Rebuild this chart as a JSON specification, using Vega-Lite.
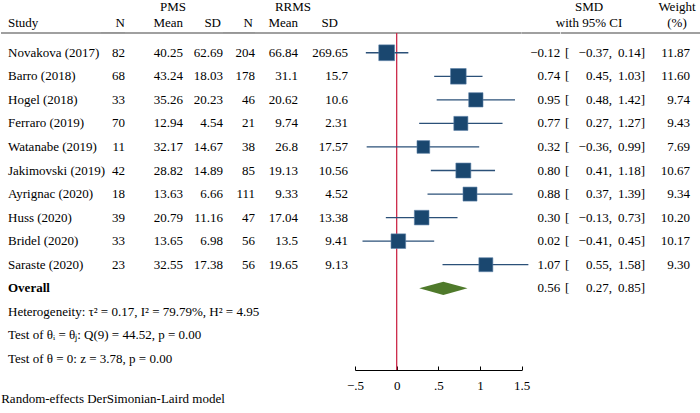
{
  "$schema": "https://vega.github.io/schema/vega-lite/v6.json",
  "padding": 0,
  "spacing": 0,
  "bounds": "flush",
  "background": "white",
  "title": {"text": "Random-effects DerSimonian-Laird model", "orient": "bottom", "anchor": "start", "font": "Liberation Serif", "fontSize": 13, "fontWeight": "normal", "color": "black", "offset": 1, "dx": 1},
  "config": {
    "view": {"stroke": null},
    "text": {"font": "Liberation Serif", "fontSize": 13, "color": "black", "baseline": "middle"},
    "concat": {"spacing": 0}
  },
  "datasets": {
    "studies": [
      {"study": "Novakova (2017)", "n1": 82, "m1": "40.25", "sd1": "62.69", "n2": 204, "m2": "66.84", "sd2": "269.65", "smd": -0.12, "lo": -0.37, "hi": 0.14, "w": 11.87, "row": 1},
      {"study": "Barro (2018)", "n1": 68, "m1": "43.24", "sd1": "18.03", "n2": 178, "m2": "31.1", "sd2": "15.7", "smd": 0.74, "lo": 0.45, "hi": 1.03, "w": 11.60, "row": 2},
      {"study": "Hogel (2018)", "n1": 33, "m1": "35.26", "sd1": "20.23", "n2": 46, "m2": "20.62", "sd2": "10.6", "smd": 0.95, "lo": 0.48, "hi": 1.42, "w": 9.74, "row": 3},
      {"study": "Ferraro (2019)", "n1": 70, "m1": "12.94", "sd1": "4.54", "n2": 21, "m2": "9.74", "sd2": "2.31", "smd": 0.77, "lo": 0.27, "hi": 1.27, "w": 9.43, "row": 4},
      {"study": "Watanabe (2019)", "n1": 11, "m1": "32.17", "sd1": "14.67", "n2": 38, "m2": "26.8", "sd2": "17.57", "smd": 0.32, "lo": -0.36, "hi": 0.99, "w": 7.69, "row": 5},
      {"study": "Jakimovski (2019)", "n1": 42, "m1": "28.82", "sd1": "14.89", "n2": 85, "m2": "19.13", "sd2": "10.56", "smd": 0.80, "lo": 0.41, "hi": 1.18, "w": 10.67, "row": 6},
      {"study": "Ayrignac (2020)", "n1": 18, "m1": "13.63", "sd1": "6.66", "n2": 111, "m2": "9.33", "sd2": "4.52", "smd": 0.88, "lo": 0.37, "hi": 1.39, "w": 9.34, "row": 7},
      {"study": "Huss (2020)", "n1": 39, "m1": "20.79", "sd1": "11.16", "n2": 47, "m2": "17.04", "sd2": "13.38", "smd": 0.30, "lo": -0.13, "hi": 0.73, "w": 10.20, "row": 8},
      {"study": "Bridel (2020)", "n1": 33, "m1": "13.65", "sd1": "6.98", "n2": 56, "m2": "13.5", "sd2": "9.41", "smd": 0.02, "lo": -0.41, "hi": 0.45, "w": 10.17, "row": 9},
      {"study": "Saraste (2020)", "n1": 23, "m1": "32.55", "sd1": "17.38", "n2": 56, "m2": "19.65", "sd2": "9.13", "smd": 1.07, "lo": 0.55, "hi": 1.58, "w": 9.30, "row": 10}
    ],
    "overall": [
      {"label": "Overall", "smd": 0.56, "lo": 0.27, "hi": 0.85, "row": 11}
    ],
    "stats": [
      {"label": "Heterogeneity: τ² = 0.17, I² = 79.79%, H² = 4.95", "row": 12},
      {"label": "Test of θᵢ = θⱼ: Q(9) = 44.52, p = 0.00", "row": 13},
      {"label": "Test of θ = 0: z = 3.78, p = 0.00", "row": 14}
    ]
  },
  "hconcat": [
    {
      "width": 100, "height": 370,
      "layer": [
        {"data": {"name": "studies"}, "mark": {"type": "text", "align": "left", "dx": 7},
         "encoding": {"x": {"value": 0}, "y": {"field": "row", "type": "quantitative", "scale": {"domain": [-1.24, 14.47], "reverse": true, "nice": false, "zero": false}, "axis": null}, "text": {"field": "study", "type": "nominal"}}},
        {"data": {"name": "overall"}, "mark": {"type": "text", "align": "left", "dx": 7, "fontWeight": "bold"},
         "encoding": {"x": {"value": 0}, "y": {"field": "row", "type": "quantitative", "axis": null}, "text": {"field": "label", "type": "nominal"}}},
        {"data": {"name": "stats"}, "mark": {"type": "text", "align": "left", "dx": 7},
         "encoding": {"x": {"value": 0}, "y": {"field": "row", "type": "quantitative", "axis": null}, "text": {"field": "label", "type": "nominal"}}},
        {"data": {"values": [{}]}, "mark": {"type": "text", "align": "left", "dx": 7, "text": "Study"},
         "encoding": {"x": {"value": 0}, "y": {"datum": -0.26, "type": "quantitative", "axis": null}}},
        {"data": {"values": [{}]}, "mark": {"type": "rule", "color": "#808080", "strokeWidth": 1.6},
         "encoding": {"y": {"datum": 0.16, "type": "quantitative", "axis": null}}}
      ]
    },
    {
      "width": 24, "height": 370,
      "layer": [
        {"data": {"name": "studies"}, "mark": {"type": "text", "align": "right"},
         "encoding": {"x": {"value": "width"}, "y": {"field": "row", "type": "quantitative", "scale": {"domain": [-1.24, 14.47], "reverse": true, "nice": false, "zero": false}, "axis": null}, "text": {"field": "n1", "type": "nominal"}}},
        {"data": {"values": [{}]}, "mark": {"type": "text", "align": "right", "text": "N"},
         "encoding": {"x": {"value": "width"}, "y": {"datum": -0.26, "type": "quantitative", "axis": null}}},
        {"data": {"values": [{}]}, "mark": {"type": "rule", "color": "#808080", "strokeWidth": 1.6},
         "encoding": {"y": {"datum": 0.16, "type": "quantitative", "axis": null}}}
      ]
    },
    {
      "width": 58, "height": 370,
      "layer": [
        {"data": {"name": "studies"}, "mark": {"type": "text", "align": "right"},
         "encoding": {"x": {"value": "width"}, "y": {"field": "row", "type": "quantitative", "scale": {"domain": [-1.24, 14.47], "reverse": true, "nice": false, "zero": false}, "axis": null}, "text": {"field": "m1", "type": "nominal"}}},
        {"data": {"values": [{}]}, "mark": {"type": "text", "align": "right", "text": "Mean"},
         "encoding": {"x": {"value": "width"}, "y": {"datum": -0.26, "type": "quantitative", "axis": null}}},
        {"data": {"values": [{}]}, "mark": {"type": "text", "align": "center", "text": "PMS", "dx": -10},
         "encoding": {"x": {"value": "width"}, "y": {"datum": -0.94, "type": "quantitative", "axis": null}}},
        {"data": {"values": [{}]}, "mark": {"type": "rule", "color": "#808080", "strokeWidth": 1.6},
         "encoding": {"y": {"datum": 0.16, "type": "quantitative", "axis": null}}}
      ]
    },
    {
      "width": 40, "height": 370,
      "layer": [
        {"data": {"name": "studies"}, "mark": {"type": "text", "align": "right"},
         "encoding": {"x": {"value": "width"}, "y": {"field": "row", "type": "quantitative", "scale": {"domain": [-1.24, 14.47], "reverse": true, "nice": false, "zero": false}, "axis": null}, "text": {"field": "sd1", "type": "nominal"}}},
        {"data": {"values": [{}]}, "mark": {"type": "text", "align": "right", "text": "SD", "dx": -2},
         "encoding": {"x": {"value": "width"}, "y": {"datum": -0.26, "type": "quantitative", "axis": null}}},
        {"data": {"values": [{}]}, "mark": {"type": "rule", "color": "#808080", "strokeWidth": 1.6},
         "encoding": {"y": {"datum": 0.16, "type": "quantitative", "axis": null}}}
      ]
    },
    {
      "width": 32, "height": 370,
      "layer": [
        {"data": {"name": "studies"}, "mark": {"type": "text", "align": "right"},
         "encoding": {"x": {"value": "width"}, "y": {"field": "row", "type": "quantitative", "scale": {"domain": [-1.24, 14.47], "reverse": true, "nice": false, "zero": false}, "axis": null}, "text": {"field": "n2", "type": "nominal"}}},
        {"data": {"values": [{}]}, "mark": {"type": "text", "align": "right", "text": "N", "dx": -2},
         "encoding": {"x": {"value": "width"}, "y": {"datum": -0.26, "type": "quantitative", "axis": null}}},
        {"data": {"values": [{}]}, "mark": {"type": "rule", "color": "#808080", "strokeWidth": 1.6},
         "encoding": {"y": {"datum": 0.16, "type": "quantitative", "axis": null}}}
      ]
    },
    {
      "width": 43, "height": 370,
      "layer": [
        {"data": {"name": "studies"}, "mark": {"type": "text", "align": "right"},
         "encoding": {"x": {"value": "width"}, "y": {"field": "row", "type": "quantitative", "scale": {"domain": [-1.24, 14.47], "reverse": true, "nice": false, "zero": false}, "axis": null}, "text": {"field": "m2", "type": "nominal"}}},
        {"data": {"values": [{}]}, "mark": {"type": "text", "align": "right", "text": "Mean"},
         "encoding": {"x": {"value": "width"}, "y": {"datum": -0.26, "type": "quantitative", "axis": null}}},
        {"data": {"values": [{}]}, "mark": {"type": "text", "align": "center", "text": "RRMS", "dx": -5},
         "encoding": {"x": {"value": "width"}, "y": {"datum": -0.94, "type": "quantitative", "axis": null}}},
        {"data": {"values": [{}]}, "mark": {"type": "rule", "color": "#808080", "strokeWidth": 1.6},
         "encoding": {"y": {"datum": 0.16, "type": "quantitative", "axis": null}}}
      ]
    },
    {
      "width": 57, "height": 370,
      "layer": [
        {"data": {"name": "studies"}, "mark": {"type": "text", "align": "right", "dx": -7},
         "encoding": {"x": {"value": "width"}, "y": {"field": "row", "type": "quantitative", "scale": {"domain": [-1.24, 14.47], "reverse": true, "nice": false, "zero": false}, "axis": null}, "text": {"field": "sd2", "type": "nominal"}}},
        {"data": {"values": [{}]}, "mark": {"type": "text", "align": "right", "text": "SD", "dx": -17},
         "encoding": {"x": {"value": "width"}, "y": {"datum": -0.26, "type": "quantitative", "axis": null}}},
        {"data": {"values": [{}]}, "mark": {"type": "rule", "color": "#808080", "strokeWidth": 1.6},
         "encoding": {"y": {"datum": 0.16, "type": "quantitative", "axis": null}}}
      ]
    },
    {
      "width": 166.7, "height": 370,
      "layer": [
        {"data": {"values": [{}]}, "mark": {"type": "rule", "color": "#808080", "strokeWidth": 1.6},
         "encoding": {"y": {"datum": 0.16, "type": "quantitative", "scale": {"domain": [-1.24, 14.47], "reverse": true, "nice": false, "zero": false}, "axis": null}}},
        {"data": {"values": [{}]}, "mark": {"type": "rule", "color": "#cc2a4a", "strokeWidth": 1.3},
         "encoding": {"x": {"datum": 0, "type": "quantitative"}, "y": {"datum": 0.16, "type": "quantitative", "axis": null}, "y2": {"datum": 14.47}}},
        {"data": {"name": "studies"}, "mark": {"type": "rule", "color": "#2b5078", "strokeWidth": 1.3},
         "encoding": {"x": {"field": "lo", "type": "quantitative"}, "x2": {"field": "hi"}, "y": {"field": "row", "type": "quantitative", "axis": null}}},
        {"data": {"name": "studies"}, "mark": {"type": "square", "filled": true, "color": "#1a476f", "opacity": 1, "stroke": "#5b7fa6", "strokeWidth": 0.6},
         "encoding": {
           "x": {"field": "smd", "type": "quantitative", "scale": {"domain": [-0.5, 1.5], "nice": false, "zero": false},
                 "axis": {"values": [-0.5, 0, 0.5, 1, 1.5], "title": null, "grid": false, "labelExpr": "datum.value == 0 ? '0' : replace(format(datum.value, '.1~f'), '0.', '.')", "labelFont": "Liberation Serif", "labelFontSize": 13, "labelColor": "black", "domainColor": "black", "tickColor": "black", "tickSize": -4, "labelPadding": 13, "domainWidth": 1, "labelFlush": false, "labelOverlap": false}},
           "y": {"field": "row", "type": "quantitative", "axis": null},
           "size": {"field": "w", "type": "quantitative", "scale": {"type": "linear", "domain": [0, 12], "range": [0, 252]}, "legend": null}
         }},
        {"data": {"name": "overall"}, "mark": {"type": "point", "filled": true, "color": "#4f7a2b", "opacity": 1, "size": 2333, "shape": "M -1 0 L 0 -0.275 L 1 0 L 0 0.275 Z"},
         "encoding": {"x": {"field": "smd", "type": "quantitative"}, "y": {"field": "row", "type": "quantitative", "axis": null}}}
      ]
    },
    {
      "width": 38.3, "height": 370,
      "layer": [
        {"data": {"name": "studies"}, "mark": {"type": "text", "align": "right"},
         "encoding": {"x": {"value": "width"}, "y": {"field": "row", "type": "quantitative", "scale": {"domain": [-1.24, 14.47], "reverse": true, "nice": false, "zero": false}, "axis": null}, "text": {"field": "smd", "type": "quantitative", "format": ".2f"}}},
        {"data": {"name": "overall"}, "mark": {"type": "text", "align": "right"},
         "encoding": {"x": {"value": "width"}, "y": {"field": "row", "type": "quantitative", "axis": null}, "text": {"field": "smd", "type": "quantitative", "format": ".2f"}}},
        {"data": {"values": [{}]}, "mark": {"type": "rule", "color": "#808080", "strokeWidth": 1.6},
         "encoding": {"y": {"datum": 0.16, "type": "quantitative", "axis": null}}}
      ]
    },
    {
      "width": 51, "height": 370,
      "layer": [
        {"data": {"name": "studies"}, "mark": {"type": "text", "align": "right", "dx": -3.3},
         "encoding": {"x": {"value": "width"}, "y": {"field": "row", "type": "quantitative", "scale": {"domain": [-1.24, 14.47], "reverse": true, "nice": false, "zero": false}, "axis": null}, "text": {"field": "lo", "type": "quantitative", "format": ".2f"}}},
        {"data": {"name": "studies"}, "mark": {"type": "text", "align": "left", "dx": -3.3, "text": ","},
         "encoding": {"x": {"value": "width"}, "y": {"field": "row", "type": "quantitative", "axis": null}}},
        {"data": {"name": "studies"}, "mark": {"type": "text", "align": "left", "dx": 4, "text": "["},
         "encoding": {"x": {"value": 0}, "y": {"field": "row", "type": "quantitative", "axis": null}}},
        {"data": {"name": "overall"}, "mark": {"type": "text", "align": "right", "dx": -3.3},
         "encoding": {"x": {"value": "width"}, "y": {"field": "row", "type": "quantitative", "axis": null}, "text": {"field": "lo", "type": "quantitative", "format": ".2f"}}},
        {"data": {"name": "overall"}, "mark": {"type": "text", "align": "left", "dx": -3.3, "text": ","},
         "encoding": {"x": {"value": "width"}, "y": {"field": "row", "type": "quantitative", "axis": null}}},
        {"data": {"name": "overall"}, "mark": {"type": "text", "align": "left", "dx": 4, "text": "["},
         "encoding": {"x": {"value": 0}, "y": {"field": "row", "type": "quantitative", "axis": null}}},
        {"data": {"values": [{}]}, "mark": {"type": "text", "align": "center", "text": "SMD", "dx": -23},
         "encoding": {"x": {"value": "width"}, "y": {"datum": -0.94, "type": "quantitative", "axis": null}}},
        {"data": {"values": [{}]}, "mark": {"type": "text", "align": "center", "text": "with 95% CI", "dx": -23},
         "encoding": {"x": {"value": "width"}, "y": {"datum": -0.26, "type": "quantitative", "axis": null}}},
        {"data": {"values": [{}]}, "mark": {"type": "rule", "color": "#808080", "strokeWidth": 1.6},
         "encoding": {"y": {"datum": 0.16, "type": "quantitative", "axis": null}}}
      ]
    },
    {
      "width": 33, "height": 370,
      "layer": [
        {"data": {"name": "studies"}, "mark": {"type": "text", "align": "right", "dx": -4.3},
         "encoding": {"x": {"value": "width"}, "y": {"field": "row", "type": "quantitative", "scale": {"domain": [-1.24, 14.47], "reverse": true, "nice": false, "zero": false}, "axis": null}, "text": {"field": "hi", "type": "quantitative", "format": ".2f"}}},
        {"data": {"name": "studies"}, "mark": {"type": "text", "align": "left", "dx": -4.3, "text": "]"},
         "encoding": {"x": {"value": "width"}, "y": {"field": "row", "type": "quantitative", "axis": null}}},
        {"data": {"name": "overall"}, "mark": {"type": "text", "align": "right", "dx": -4.3},
         "encoding": {"x": {"value": "width"}, "y": {"field": "row", "type": "quantitative", "axis": null}, "text": {"field": "hi", "type": "quantitative", "format": ".2f"}}},
        {"data": {"name": "overall"}, "mark": {"type": "text", "align": "left", "dx": -4.3, "text": "]"},
         "encoding": {"x": {"value": "width"}, "y": {"field": "row", "type": "quantitative", "axis": null}}},
        {"data": {"values": [{}]}, "mark": {"type": "rule", "color": "#808080", "strokeWidth": 1.6},
         "encoding": {"y": {"datum": 0.16, "type": "quantitative", "axis": null}}}
      ]
    },
    {
      "width": 57, "height": 370,
      "layer": [
        {"data": {"name": "studies"}, "mark": {"type": "text", "align": "right", "dx": -12},
         "encoding": {"x": {"value": "width"}, "y": {"field": "row", "type": "quantitative", "scale": {"domain": [-1.24, 14.47], "reverse": true, "nice": false, "zero": false}, "axis": null}, "text": {"field": "w", "type": "quantitative", "format": ".2f"}}},
        {"data": {"values": [{}]}, "mark": {"type": "text", "align": "center", "text": "Weight", "dx": -25},
         "encoding": {"x": {"value": "width"}, "y": {"datum": -0.94, "type": "quantitative", "axis": null}}},
        {"data": {"values": [{}]}, "mark": {"type": "text", "align": "center", "text": "(%)", "dx": -25},
         "encoding": {"x": {"value": "width"}, "y": {"datum": -0.26, "type": "quantitative", "axis": null}}},
        {"data": {"values": [{}]}, "mark": {"type": "rule", "color": "#808080", "strokeWidth": 1.6},
         "encoding": {"y": {"datum": 0.16, "type": "quantitative", "axis": null}}}
      ]
    }
  ]
}
